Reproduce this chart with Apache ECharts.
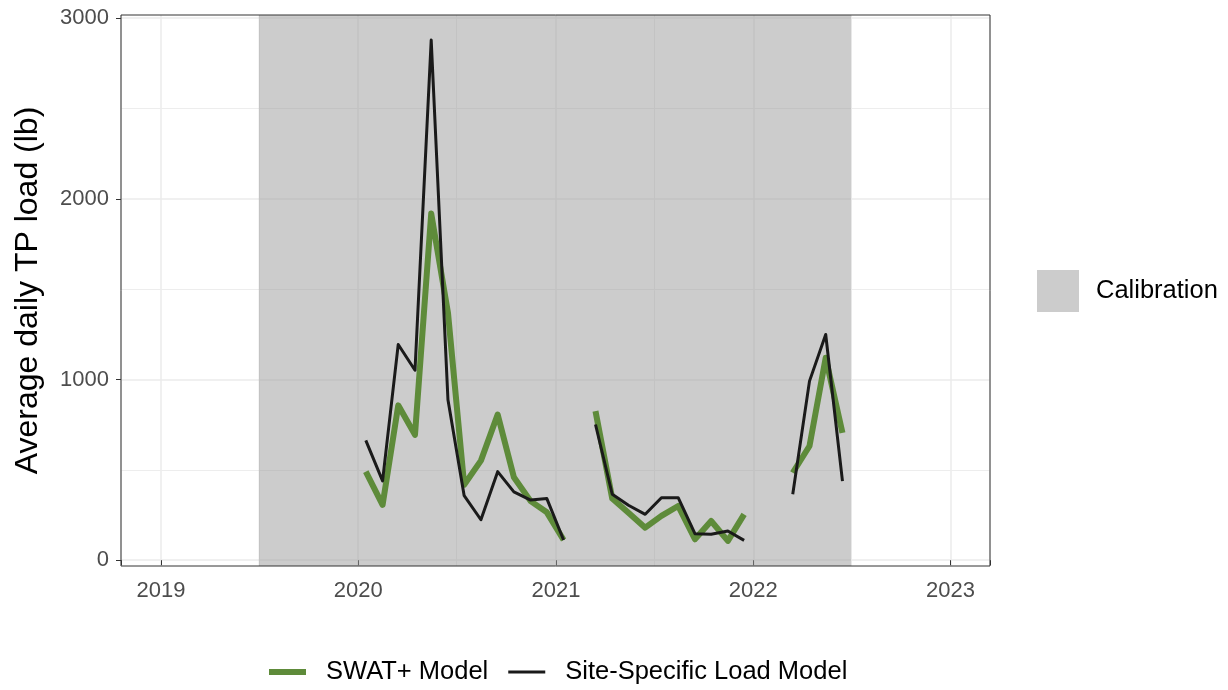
<!DOCTYPE html>
<html>
<head>
<meta charset="utf-8">
<script src="https://cdn.jsdelivr.net/npm/echarts@6/dist/echarts.min.js"></script>
<style>
html,body{margin:0;padding:0;background:#fff;}
#chart{width:1228px;height:690px;}
</style>
</head>
<body>
<div id="chart"></div>
<script>
// ---- data ----
const months = [
  '2020-01-15','2020-02-15','2020-03-15','2020-04-15','2020-05-15','2020-06-15',
  '2020-07-15','2020-08-15','2020-09-15','2020-10-15','2020-11-15','2020-12-15',
  '2021-01-15','2021-02-15','2021-03-15','2021-04-15','2021-05-15','2021-06-15',
  '2021-07-15','2021-08-15','2021-09-15','2021-10-15','2021-11-15','2021-12-15',
  '2022-01-15','2022-02-15','2022-03-15','2022-04-15','2022-05-15','2022-06-15'
];
const swatModel = [
  490, 306, 857, 694, 1918, 1370, 418, 551, 806, 459, 327, 265,
  112, null, 825, 341, 263, 180, 245, 300, 116, 217, 107, 254,
  null, null, 484, 632, 1120, 705
];
const siteModel = [
  663, 439, 1194, 1051, 2878, 888, 357, 224, 490, 378, 333, 341,
  112, null, 751, 365, 304, 254, 346, 346, 147, 144, 162, 110,
  null, null, 365, 991, 1249, 438
];
const calibrationPeriod = ['2019-07-01', '2022-07-01'];
const xMinorDates = ['2019-07-01', '2020-07-01', '2021-07-01', '2022-07-01'];
const yTicks = [0, 1000, 2000, 3000];
const yMinor = [500, 1500, 2500];
const xRange = ['2018-10-19', '2023-03-15'];
const yRange = [-32, 3017];

// ---- chart ----
const toTs = s => { const p = s.split('-').map(Number); return new Date(p[0], (p[1] || 1) - 1, p[2] || 1).getTime(); };
const pairs = vals => months.map((m, i) => [toTs(m), vals[i]]);
const isJan1 = v => { const d = new Date(v); return d.getMonth() === 0 && d.getDate() === 1 && d.getHours() === 0; };
const gridColor = '#ebebeb';
const font = 'Liberation Sans, Arial, sans-serif';
const greenColor = '#5e8b3a';
const blackColor = '#1a1a1a';

const chart = echarts.init(document.getElementById('chart'), null, {renderer: 'canvas'});
chart.setOption({
  animation: false,
  backgroundColor: '#ffffff',
  textStyle: {fontFamily: font},
  grid: {left: 121, right: 238, top: 15, bottom: 124, show: true,
         backgroundColor: 'transparent', borderColor: '#333333', borderWidth: 1, z: 10},
  xAxis: {
    type: 'time', min: toTs(xRange[0]), max: toTs(xRange[1]),
    splitNumber: 4, minInterval: 365 * 86400000,
    axisLine: {show: false},
    axisTick: {show: true, inside: false, length: 5, lineStyle: {color: '#333333', width: 1}},
    axisLabel: {color: '#4d4d4d', fontSize: 22, margin: 14, fontFamily: font,
      showMinLabel: true, showMaxLabel: true, hideOverlap: false,
      formatter: v => (isJan1(v) ? String(new Date(v).getFullYear()) : '')},
    splitLine: {show: true, lineStyle: {color: gridColor, width: 1.5}},
    minorSplitLine: {show: false}
  },
  yAxis: {
    type: 'value', min: yRange[0], max: yRange[1], splitNumber: 3,
    name: 'Average daily TP load (lb)', nameLocation: 'middle', nameGap: 77,
    nameTextStyle: {fontSize: 32, color: '#000000', fontFamily: font},
    axisLine: {show: false},
    axisTick: {show: true, inside: false, length: 5, lineStyle: {color: '#333333', width: 1}, customValues: yTicks},
    axisLabel: {customValues: yTicks, color: '#4d4d4d', fontSize: 22, margin: 12, fontFamily: font,
      formatter: v => (v % 1000 === 0 ? String(v) : '')},
    splitLine: {show: true, lineStyle: {color: gridColor, width: 1.5}}
  },
  legend: [
    {
      data: [
        {name: 'SWAT+ Model', icon: 'path://M0,0L37,0L37,6L0,6Z'},
        {name: 'Site-Specific Load Model', icon: 'path://M0,0L37,0L37,3L0,3Z'}
      ],
      left: 264, top: 654, itemWidth: 37, itemHeight: 14, itemGap: 20,
      textStyle: {fontSize: 25.5, color: '#000000', fontFamily: font, padding: [0, 0, 0, 15]},
      selectedMode: false
    },
    {
      data: ['Calibration'], left: 1032, top: 265, itemWidth: 42, itemHeight: 42,
      icon: 'rect', orient: 'vertical',
      textStyle: {fontSize: 25.5, color: '#000000', fontFamily: font, padding: [0, 0, 0, 12]}, selectedMode: false
    }
  ],
  series: [
    {
      name: 'minorGrid', type: 'line', data: [], z: 1, silent: true,
      markLine: {
        silent: true, symbol: 'none', label: {show: false}, animation: false, z: 1,
        lineStyle: {color: '#ededed', width: 1, type: 'solid'},
        data: xMinorDates.map(d => ({xAxis: toTs(d)})).concat(yMinor.map(v => ({yAxis: v})))
      }
    },
    {
      name: 'Calibration', type: 'line', data: [], z: 2, color: '#cccccc',
      itemStyle: {color: '#cccccc'},
      markArea: {
        silent: true, z: 2,
        itemStyle: {color: 'rgba(153,153,153,0.5)'},
        data: [[{xAxis: toTs(calibrationPeriod[0])}, {xAxis: toTs(calibrationPeriod[1])}]]
      }
    },
    {
      name: 'SWAT+ Model', type: 'line', data: pairs(swatModel), z: 3,
      showSymbol: false, symbol: 'none', connectNulls: false, color: greenColor,
      lineStyle: {color: greenColor, width: 6, join: 'round', cap: 'butt'}
    },
    {
      name: 'Site-Specific Load Model', type: 'line', data: pairs(siteModel), z: 4,
      showSymbol: false, symbol: 'none', connectNulls: false, color: blackColor,
      lineStyle: {color: blackColor, width: 3, join: 'round', cap: 'butt'}
    }
  ]
});
</script>
</body>
</html>
